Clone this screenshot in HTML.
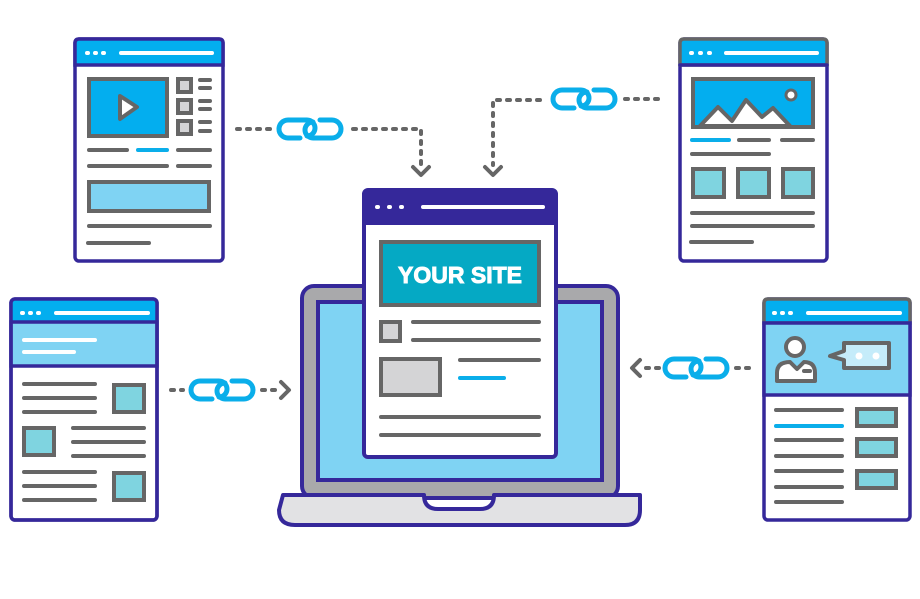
<!DOCTYPE html>
<html><head><meta charset="utf-8"><style>html,body{margin:0;padding:0;background:#fff;}svg{display:block}</style></head>
<body>
<svg width="920" height="599" viewBox="0 0 920 599" xmlns="http://www.w3.org/2000/svg">
<defs>
<g id="link" fill="none" stroke="#0aaeea" stroke-width="5" stroke-linecap="round">
<path d="M-10,9 H-22 A9 9 0 0 1 -22,-9 H-3 A8 8 0 0 1 -3,7"/>
<path d="M10,-9 H22 A9 9 0 0 1 22,9 H3 A8 8 0 0 1 3,-7"/>
</g>
</defs>
<g stroke-linecap="round" fill="none">

<!-- connectors -->
<g stroke="#666" stroke-width="4" stroke-dasharray="3 7">
<path d="M237,129 H270"/><path d="M353,129 H421 V165"/>
<path d="M658,99 H624"/><path d="M540,100 H493 V165"/>
<path d="M171,390 H183"/><path d="M262,390 H276"/>
<path d="M646,368 H660"/><path d="M736,368 H750"/>
</g>
<g stroke="#666" stroke-width="4" stroke-linejoin="round">
<path d="M413,167 L421,175 L429,167"/><path d="M485,167 L493,175 L501,167"/>
<path d="M281,382 L289,390 L281,398"/><path d="M640,360 L632,368 L640,376"/>
</g>
<use href="#link" x="310" y="129"/>
<use href="#link" x="584" y="99"/>
<use href="#link" x="222" y="390"/>
<use href="#link" x="696" y="368"/>

<!-- laptop -->
<rect x="302" y="286" width="316" height="212" rx="12" fill="#a9a9ab" stroke="#35289a" stroke-width="4"/>
<rect x="318" y="302" width="284" height="178" fill="#7fd3f3" stroke="#35289a" stroke-width="4"/>
<path d="M283,495 H424 Q424,509 438,509 H480 Q494,509 494,495 H640 V510 Q640,525 625,525 H295 Q279,525 279,510 Z" fill="#e2e2e4" stroke="#35289a" stroke-width="4" stroke-linejoin="round"/>

<!-- center window -->
<rect x="364" y="190" width="192" height="267" rx="4" fill="#fff" stroke="#35289a" stroke-width="4"/>
<path d="M364,225 V194 Q364,190 368,190 H552 Q556,190 556,194 V225 Z" fill="#35289a"/>
<g stroke="#fff" stroke-width="4"><path d="M377,207 h1 M389,207 h1 M401,207 h1"/><path d="M423,207 H543"/></g>
<rect x="381" y="242" width="158" height="63" fill="#05a9c4" stroke="#666" stroke-width="4"/>
<text x="460" y="283" text-anchor="middle" fill="#fff" stroke="#fff" stroke-width="0.9" font-family="Liberation Sans, sans-serif" font-weight="bold" font-size="23">YOUR SITE</text>
<rect x="381" y="322" width="19" height="19" fill="#d4d4d6" stroke="#666" stroke-width="4"/>
<g stroke="#666" stroke-width="4"><path d="M413,322 H539 M413,340 H539 M460,360 H539 M381,417 H539 M381,435 H539"/></g>
<path d="M460,378 H504" stroke="#0aaeea" stroke-width="4"/>
<rect x="381" y="359" width="59" height="36" fill="#d4d4d6" stroke="#666" stroke-width="4"/>

<!-- top-left window -->
<rect x="75" y="39" width="148" height="222" rx="4" fill="#fff" stroke="#35289a" stroke-width="3.5"/>
<path d="M75,65 V43 Q75,39 79,39 H219 Q223,39 223,43 V65 Z" fill="#03aeef" stroke="#35289a" stroke-width="3.5"/>
<g stroke="#fff" stroke-width="4"><path d="M87,53 h1 M95,53 h1 M103,53 h1 M121,53 H212"/></g>
<rect x="89" y="79" width="78" height="57" fill="#03aeef" stroke="#666" stroke-width="4"/>
<path d="M120,96 L137,107 L120,119 Z" fill="#fff" stroke="#666" stroke-width="4" stroke-linejoin="round"/>
<g fill="#d4d4d6" stroke="#666" stroke-width="4"><rect x="178" y="79" width="13" height="13"/><rect x="178" y="100" width="13" height="13"/><rect x="178" y="121" width="13" height="13"/></g>
<g stroke="#666" stroke-width="4"><path d="M200,80 H210 M200,88 H210 M200,101 H210 M200,109 H210 M200,122 H210 M200,131 H210"/>
<path d="M89,150 H127 M178,150 H210 M89,166 H167 M178,166 H210 M89,226 H210 M88,243 H149"/></g>
<path d="M138,150 H167" stroke="#0aaeea" stroke-width="4"/>
<rect x="89" y="182" width="120" height="29" fill="#7fd3f3" stroke="#666" stroke-width="4"/>

<!-- top-right window -->
<rect x="680" y="39" width="147" height="222" rx="4" fill="#fff" stroke="#35289a" stroke-width="3.5"/>
<path d="M680,65 V43 Q680,39 684,39 H823 Q827,39 827,43 V65 Z" fill="#03aeef" stroke="#666" stroke-width="3.5"/>
<path d="M680,65 H827" stroke="#35289a" stroke-width="3.5"/>
<g stroke="#fff" stroke-width="4"><path d="M691,53 h1 M700,53 h1 M709,53 h1 M726,53 H817"/></g>
<rect x="693" y="79" width="120" height="48" fill="#03aeef" stroke="#666" stroke-width="4"/>
<path d="M700,126 L718,107 L732,121 L746,100 L762,117 L773,108 L790,126 Z" fill="#fff" stroke="#666" stroke-width="4" stroke-linejoin="round"/>
<circle cx="791" cy="95" r="5" fill="#fff" stroke="#666" stroke-width="3"/>
<path d="M692,140 H729" stroke="#0aaeea" stroke-width="4"/>
<g stroke="#666" stroke-width="4"><path d="M739,140 H769 M782,140 H813 M692,154 H769 M692,213 H813 M692,226 H813 M691,242 H752"/></g>
<g fill="#7fd4e0" stroke="#666" stroke-width="4"><rect x="693" y="169" width="31" height="28"/><rect x="738" y="169" width="31" height="28"/><rect x="783" y="169" width="30" height="28"/></g>

<!-- bottom-left window -->
<rect x="11" y="299" width="146" height="221" rx="4" fill="#fff" stroke="#35289a" stroke-width="3.5"/>
<path d="M11,322 V303 Q11,299 15,299 H153 Q157,299 157,303 V322 Z" fill="#03aeef"/>
<rect x="11" y="322" width="146" height="44" fill="#7fd3f3" stroke="#35289a" stroke-width="3.5"/>
<rect x="11" y="299" width="146" height="221" rx="4" stroke="#35289a" stroke-width="3.5"/>
<g stroke="#fff" stroke-width="4"><path d="M22,313 h1 M30,313 h1 M38,313 h1 M56,313 H148 M24,340 H95 M24,352 H74"/></g>
<g stroke="#666" stroke-width="4"><path d="M24,384 H95 M24,398 H95 M24,412 H95 M73,428 H144 M73,442 H144 M73,456 H144 M24,472 H95 M24,486 H95 M24,500 H95"/></g>
<g fill="#7fd4e0" stroke="#666" stroke-width="4"><rect x="114" y="385" width="30" height="27"/><rect x="24" y="428" width="30" height="27"/><rect x="114" y="473" width="30" height="27"/></g>

<!-- bottom-right window -->
<rect x="764" y="299" width="146" height="221" rx="4" fill="#fff" stroke="#35289a" stroke-width="3.5"/>
<path d="M764,323 V303 Q764,299 768,299 H906 Q910,299 910,303 V323 Z" fill="#03aeef" stroke="#666" stroke-width="3.5"/>
<rect x="764" y="323" width="146" height="72" fill="#7fd3f3" stroke="#35289a" stroke-width="3.5"/>
<g stroke="#fff" stroke-width="4"><path d="M774,313 h1 M782,313 h1 M790,313 h1 M808,313 H900"/></g>
<circle cx="795" cy="347" r="9" fill="#fff" stroke="#666" stroke-width="4"/>
<path d="M777,381 V373 Q777,362 790,362 L797,369 L804,362 Q815,362 815,373 V381 Z" fill="#fff" stroke="#666" stroke-width="4" stroke-linejoin="round"/>
<path d="M804,371 H810" stroke="#666" stroke-width="4"/>
<path d="M844,343 H889 V368 H844 V360 L830,356 L844,351 Z" fill="#c5ecfa" stroke="#666" stroke-width="4" stroke-linejoin="round"/>
<circle cx="859" cy="356" r="3.5" fill="#fff"/><circle cx="876" cy="356" r="3.5" fill="#fff"/>
<g stroke="#666" stroke-width="4"><path d="M776,410 H842 M776,440 H842 M776,456 H842 M776,471 H842 M776,487 H842 M776,502 H842"/></g>
<path d="M776,426 H842" stroke="#0aaeea" stroke-width="4"/>
<g fill="#7fd4e0" stroke="#666" stroke-width="4"><rect x="857" y="409" width="39" height="17"/><rect x="857" y="439" width="39" height="17"/><rect x="857" y="471" width="39" height="17"/></g>
</g>
</svg>
</body></html>
